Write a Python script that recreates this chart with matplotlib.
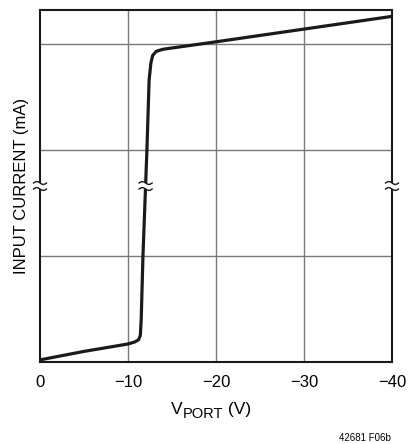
import numpy as np
import matplotlib
matplotlib.use("Agg")
import matplotlib.pyplot as plt
import matplotlib.transforms as mtransforms
from matplotlib import font_manager

# V_PORT (V) and input current (arbitrary units, one grid division per unit)
v_port = [0, -5, -10, -10.8, -11.2, -11.4, -11.5, -11.7, -12.15, -12.4,
          -12.6, -12.8, -13.2, -14.0, -20, -30, -40]
i_input = [0.02, 0.10, 0.17, 0.19, 0.21, 0.25, 0.40, 1.0, 2.0, 2.66,
           2.82, 2.89, 2.93, 2.95, 3.02, 3.14, 3.26]

x_ticks = [0, -10, -20, -30, -40]
x_tick_labels = ["0", "\u221210", "\u221220", "\u221230", "\u221240"]
y_grid = [1, 2, 3]
break_y = 1.66
break_x = [0, -12.0, -40]

names = {f.name for f in font_manager.fontManager.ttflist}
font = "Liberation Sans Narrow" if "Liberation Sans Narrow" in names else "Liberation Sans"
plt.rcParams["font.family"] = [font, "DejaVu Sans"]

fig = plt.figure(figsize=(4.09, 4.44), dpi=100)
ax = fig.add_axes([40 / 409, 82 / 444, 352 / 409, 352 / 444])

ax.plot(v_port, i_input, color="#1a1a1a", lw=2.3, solid_joinstyle="round",
        solid_capstyle="round", zorder=3)

ax.set_xlim(0, -40)
ax.set_ylim(0, 3.32)
ax.set_xticks(x_ticks)
ax.set_xticklabels(x_tick_labels, fontsize=12)
ax.set_yticks([])
ax.tick_params(axis="x", length=0, pad=9)

for xv in x_ticks[1:-1]:
    ax.axvline(xv, color="#7a7a7a", lw=1.0, zorder=1)
for yv in y_grid:
    ax.axhline(yv, color="#7a7a7a", lw=1.0, zorder=1)

for s in ax.spines.values():
    s.set_linewidth(1.5)
    s.set_color("#1a1a1a")

ax.set_ylabel("INPUT CURRENT (mA)", fontsize=12, labelpad=8)


def break_mark(xd, yd):
    # small double-tilde break drawn in inches around a data point
    trans = fig.dpi_scale_trans + mtransforms.ScaledTranslation(xd, yd, ax.transData)
    t = np.linspace(-1, 1, 40)
    xs = t * 0.065
    wave = -0.014 * np.sin(np.pi * t)
    up = wave + 0.03
    lo = wave - 0.03
    ax.fill(np.concatenate([xs, xs[::-1]]), np.concatenate([up, lo[::-1]]),
            color="white", transform=trans, clip_on=False, zorder=6, lw=0)
    ax.plot(xs, up, color="#1a1a1a", lw=1.0, transform=trans, clip_on=False, zorder=7)
    ax.plot(xs, lo, color="#1a1a1a", lw=1.0, transform=trans, clip_on=False, zorder=7)


for bx in break_x:
    break_mark(bx, break_y)

# x label V_PORT (V) built from pieces so the subscript stays large
renderer = fig.canvas.get_renderer()
pieces = [("V", 12.5, 0), ("PORT", 10.5, -4), (" (V)", 12.5, 0)]
widths = []
for txt, fs, _ in pieces:
    tt = fig.text(0, 0, txt, fontsize=fs)
    widths.append(tt.get_window_extent(renderer).width)
    tt.remove()
x = 211 - sum(widths) / 2
base = 444 - 414
for (txt, fs, dy), w in zip(pieces, widths):
    fig.text(x / 409, (base + dy) / 444, txt, fontsize=fs, ha="left", va="baseline")
    x += w

fig.text(391 / 409, 1 - 438 / 444, "42681 F06b", fontsize=7, ha="right", va="center")

fig.savefig("out.png", dpi=100)
